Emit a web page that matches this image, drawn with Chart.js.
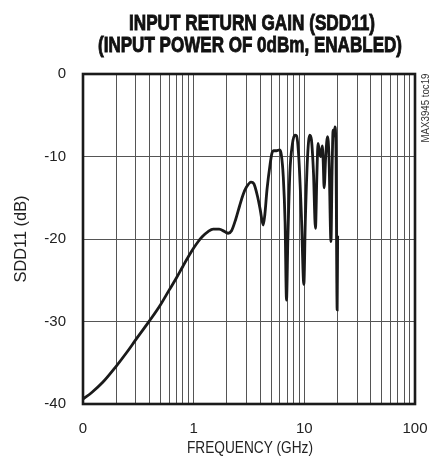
<!DOCTYPE html>
<html><head><meta charset="utf-8">
<script src="https://cdn.jsdelivr.net/npm/chart.js@4/dist/chart.umd.min.js"></script>
<style>html,body{margin:0;padding:0;background:#fff}#wrap{width:430px;height:462px;position:relative}</style>
</head><body><div id="wrap"><canvas id="c" width="430" height="462"></canvas></div>
<script>
const titleLines = ['INPUT RETURN GAIN (SDD11)', '(INPUT POWER OF 0dBm, ENABLED)'];
const xAxisTitle = 'FREQUENCY (GHz)';
const yAxisTitle = 'SDD11 (dB)';
const sideNote = 'MAX3945 toc19';

const freqGHz = [0.1,0.12,0.15,0.2,0.25,0.3,0.4,0.5,0.6,0.7,0.8,0.9,1.0,1.1,1.2,1.35,1.5,1.7,1.9,2.05,2.2,2.4,2.6,2.8,3.0,3.3,3.5,3.8,4.0,4.25,4.4,4.6,4.9,5.1,5.3,5.6,6.0,6.2,6.45,6.7,6.9,7.1,7.4,7.8,8.2,8.5,8.9,9.4,9.9,10.2,10.7,11.2,11.6,12.1,12.6,13.0,13.3,13.7,14.1,14.5,14.8,15.1,15.6,16.2,16.7,17.4,17.8,18.2,18.6,18.9,19.3,19.8,20.0];
const sdd11dB = [-39.4,-38.6,-37.4,-35.4,-33.7,-32.2,-29.9,-28.0,-26.2,-24.7,-23.3,-22.1,-21.1,-20.3,-19.7,-19.1,-18.8,-18.8,-19.1,-19.3,-19.0,-17.6,-16.0,-14.6,-13.7,-13.1,-13.3,-15.0,-16.5,-18.3,-17.0,-14.0,-11.0,-9.6,-9.3,-9.3,-9.2,-9.8,-12.4,-18.0,-27.4,-20.0,-12.0,-8.5,-7.4,-7.5,-10.0,-17.0,-25.5,-18.0,-10.0,-7.4,-8.0,-12.0,-18.7,-12.0,-8.4,-9.5,-10.0,-8.7,-10.5,-13.8,-10.0,-7.6,-10.0,-20.3,-12.0,-6.8,-7.5,-6.4,-9.0,-28.6,-19.6];

const xGridValues = [0.1,0.2,0.3,0.4,0.5,0.6,0.7,0.8,0.9,1,2,3,4,5,6,7,8,9,10,20,30,40,50,60,70,80,90,100];
const xTickValues = [0.1, 1, 10, 100];
const xTickLabels = ['0', '1', '10', '100'];
const yTickValues = [0, -10, -20, -30, -40];

const sans = '"Liberation Sans", Arial, sans-serif';

function fitText(ctx, text, x, y, w, rot, stroke) {
  ctx.save();
  ctx.translate(x, y);
  if (rot) ctx.rotate(rot);
  const m = ctx.measureText(text).width;
  ctx.scale(w / m, 1);
  ctx.fillText(text, 0, 0);
  if (stroke) { ctx.lineWidth = stroke; ctx.strokeStyle = ctx.fillStyle; ctx.strokeText(text, 0, 0); }
  ctx.restore();
}

const textPlugin = {
  id: 'texts',
  afterDraw(chart) {
    const ctx = chart.ctx, a = chart.chartArea;
    ctx.save();
    ctx.strokeStyle = '#1a1a1a';
    ctx.lineWidth = 2.6;
    ctx.strokeRect(a.left, a.top, a.right - a.left, a.bottom - a.top);
    ctx.fillStyle = '#111';
    ctx.textAlign = 'center';
    ctx.textBaseline = 'alphabetic';
    ctx.font = 'bold 22px ' + sans;
    fitText(ctx, titleLines[0], 252, 29.5, 246, 0, 0.9);
    fitText(ctx, titleLines[1], 250, 51.5, 304, 0, 0.9);
    ctx.fillStyle = '#222';
    ctx.font = '16.5px ' + sans;
    fitText(ctx, xAxisTitle, 250, 453, 126);
    fitText(ctx, yAxisTitle, 26, 239, 87, -Math.PI / 2);
    ctx.fillStyle = '#333';
    ctx.font = '11px ' + sans;
    fitText(ctx, sideNote, 429, 108, 69, -Math.PI / 2);
    ctx.restore();
  }
};

new Chart(document.getElementById('c'), {
  type: 'line',
  data: {
    datasets: [{
      data: freqGHz.map((f, i) => ({ x: f, y: sdd11dB[i] })),
      borderColor: '#1a1a1a',
      borderWidth: 2.8,
      pointRadius: 0,
      cubicInterpolationMode: 'monotone',
      fill: false
    }]
  },
  options: {
    responsive: false,
    animation: false,
    layout: { padding: { left: 0, right: 15, top: 74, bottom: 0 } },
    plugins: { legend: { display: false }, tooltip: { enabled: false }, title: { display: false } },
    scales: {
      x: {
        type: 'logarithmic',
        min: 0.1, max: 100,
        afterFit(s) { s.height = 58; s.paddingLeft = 0; s.paddingRight = 0; },
        afterBuildTicks(s) { s.ticks = xGridValues.map(v => ({ value: v })); },
        grid: { color: '#555', lineWidth: 1, drawTicks: false },
        border: { display: false },
        ticks: {
          autoSkip: false, maxRotation: 0, padding: 16,
          color: '#222', font: { family: sans, size: 15 },
          callback(v) {
            const i = xTickValues.findIndex(t => Math.abs(t - v) / t < 1e-6);
            return i >= 0 ? xTickLabels[i] : '';
          }
        }
      },
      y: {
        min: -40, max: 0,
        afterFit(s) { s.width = 83; s.paddingTop = 0; s.paddingBottom = 0; },
        afterBuildTicks(s) { s.ticks = yTickValues.map(v => ({ value: v })); },
        grid: { color: '#555', lineWidth: 1, drawTicks: false },
        border: { display: false },
        ticks: { padding: 17, color: '#222', font: { family: sans, size: 15 } }
      }
    }
  },
  plugins: [textPlugin]
});
</script></body></html>
